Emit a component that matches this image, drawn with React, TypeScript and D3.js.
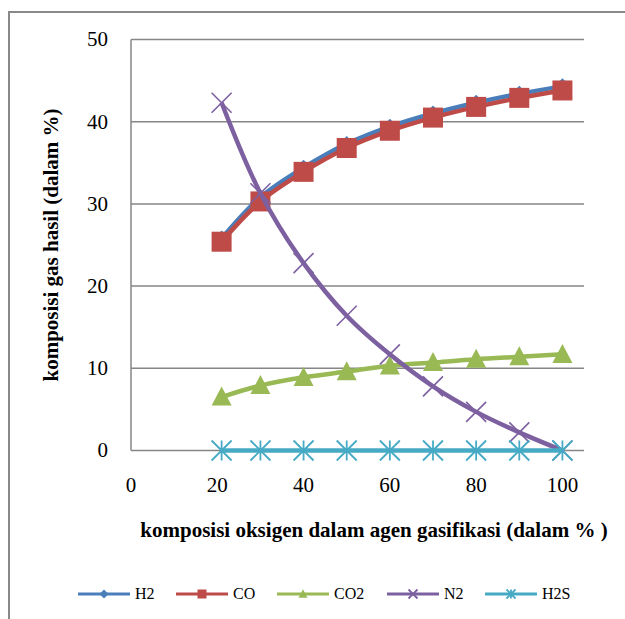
import React from "react";
import * as d3 from "d3";

const xValues = [21, 30, 40, 50, 60, 70, 80, 90, 100];
const h2 = [25.8, 30.8, 34.4, 37.3, 39.4, 41.0, 42.3, 43.4, 44.3];
const co = [25.4, 30.3, 33.9, 36.8, 38.9, 40.5, 41.8, 42.9, 43.8];
const co2 = [6.5, 7.9, 8.9, 9.6, 10.3, 10.7, 11.1, 11.4, 11.7];
const n2 = [42.3, 31.3, 22.8, 16.4, 11.7, 7.8, 4.7, 2.2, 0];
const h2s = [0, 0, 0, 0, 0, 0, 0, 0, 0];

const xTicks = [0, 20, 40, 60, 80, 100];
const yTicks = [0, 10, 20, 30, 40, 50];

const seriesNames = ["H2", "CO", "CO2", "N2", "H2S"];
const seriesValues = [h2, co, co2, n2, h2s];
const seriesColors = ["#4A7EBB", "#BE4B48", "#98B954", "#7D60A0", "#46AAC5"];
const seriesMarkers = ["diamond", "square", "triangle", "x", "star"];

const FONT = "'Liberation Serif', 'Times New Roman', serif";

function Marker({ type, cx, cy, s, color }: { type: string; cx: number; cy: number; s: number; color: string }) {
  const h = s / 2;
  if (type === "square") {
    return <rect x={cx - h} y={cy - h} width={s} height={s} fill={color} />;
  }
  if (type === "diamond") {
    return (
      <path d={`M${cx},${cy - h}L${cx + h},${cy}L${cx},${cy + h}L${cx - h},${cy}Z`} fill={color} />
    );
  }
  if (type === "triangle") {
    const hh = s * 0.95;
    return (
      <path
        d={`M${cx},${cy - hh * 0.55}L${cx + h},${cy + hh * 0.45}L${cx - h},${cy + hh * 0.45}Z`}
        fill={color}
      />
    );
  }
  if (type === "x") {
    return (
      <path
        d={`M${cx - h},${cy - h}L${cx + h},${cy + h}M${cx - h},${cy + h}L${cx + h},${cy - h}`}
        stroke={color}
        strokeWidth={s > 12 ? 1.6 : 1.8}
        fill="none"
      />
    );
  }
  // star (asterisk)
  return (
    <path
      d={`M${cx - h},${cy - h}L${cx + h},${cy + h}M${cx - h},${cy + h}L${cx + h},${cy - h}M${cx},${cy - h}L${cx},${cy + h}`}
      stroke={color}
      strokeWidth={s > 12 ? 1.8 : 1.8}
      fill="none"
    />
  );
}

export default function App() {
  const width = 625;
  const height = 619;
  const x = d3.scaleLinear().domain([0, 105]).range([131, 584]);
  const y = d3.scaleLinear().domain([0, 50]).range([450.5, 39.5]);

  const line = d3
    .line<[number, number]>()
    .x((d) => x(d[0]))
    .y((d) => y(d[1]))
    .curve(d3.curveCatmullRom.alpha(0.5));

  const legendX = [78, 176, 277, 387, 485];
  const legendY = 594;

  return (
    <svg
      width={width}
      height={height}
      style={{ position: "absolute", left: 0, top: 0, background: "#fff" }}
      fontFamily={FONT}
    >
      <rect x={0} y={0} width={width} height={height} fill="#fff" />
      {/* outer border */}
      <path d={`M9,${height}L9,12L${width},12`} stroke="#898989" strokeWidth={2} fill="none" />

      {/* gridlines */}
      {yTicks.map((t) => (
        <line key={t} x1={x(0)} x2={584} y1={y(t)} y2={y(t)} stroke="#868686" strokeWidth={1.5} />
      ))}
      <line x1={x(0)} x2={x(0)} y1={y(0)} y2={y(50)} stroke="#868686" strokeWidth={1.5} />

      {/* y tick labels */}
      {yTicks.map((t) => (
        <text key={t} x={108} y={y(t)} dy="0.33em" textAnchor="end" fontSize={21} fill="#000">
          {t}
        </text>
      ))}
      {/* x tick labels */}
      {xTicks.map((t) => (
        <text key={t} x={x(t)} y={492} textAnchor="middle" fontSize={21} fill="#000">
          {t}
        </text>
      ))}

      {/* axis titles */}
      <text
        transform={`translate(58,245) rotate(-90)`}
        textAnchor="middle"
        fontSize={21}
        fontWeight="bold"
        fill="#000"
      >
        komposisi gas hasil (dalam %)
      </text>
      <text x={374} y={537} textAnchor="middle" fontSize={21} fontWeight="bold" fill="#000">
        komposisi oksigen dalam agen gasifikasi (dalam % )
      </text>

      {/* series */}
      {seriesValues.map((vals, i) => {
        const pts: [number, number][] = xValues.map((xv, j) => [xv, vals[j]]);
        return (
          <g key={seriesNames[i]}>
            <path d={line(pts) || ""} fill="none" stroke={seriesColors[i]} strokeWidth={4.5} strokeLinejoin="round" />
            {pts.map((p, j) => (
              <Marker
                key={j}
                type={seriesMarkers[i]}
                cx={x(p[0])}
                cy={y(p[1])}
                s={seriesMarkers[i] === "diamond" ? 16 : 20}
                color={seriesColors[i]}
              />
            ))}
          </g>
        );
      })}

      {/* legend */}
      {seriesNames.map((name, i) => (
        <g key={name}>
          <line
            x1={legendX[i]}
            x2={legendX[i] + 52}
            y1={legendY}
            y2={legendY}
            stroke={seriesColors[i]}
            strokeWidth={3}
          />
          <Marker type={seriesMarkers[i]} cx={legendX[i] + 26} cy={legendY} s={9} color={seriesColors[i]} />
          <text x={legendX[i] + 57} y={legendY} dy="0.33em" fontSize={16} fill="#000">
            {name}
          </text>
        </g>
      ))}
    </svg>
  );
}
